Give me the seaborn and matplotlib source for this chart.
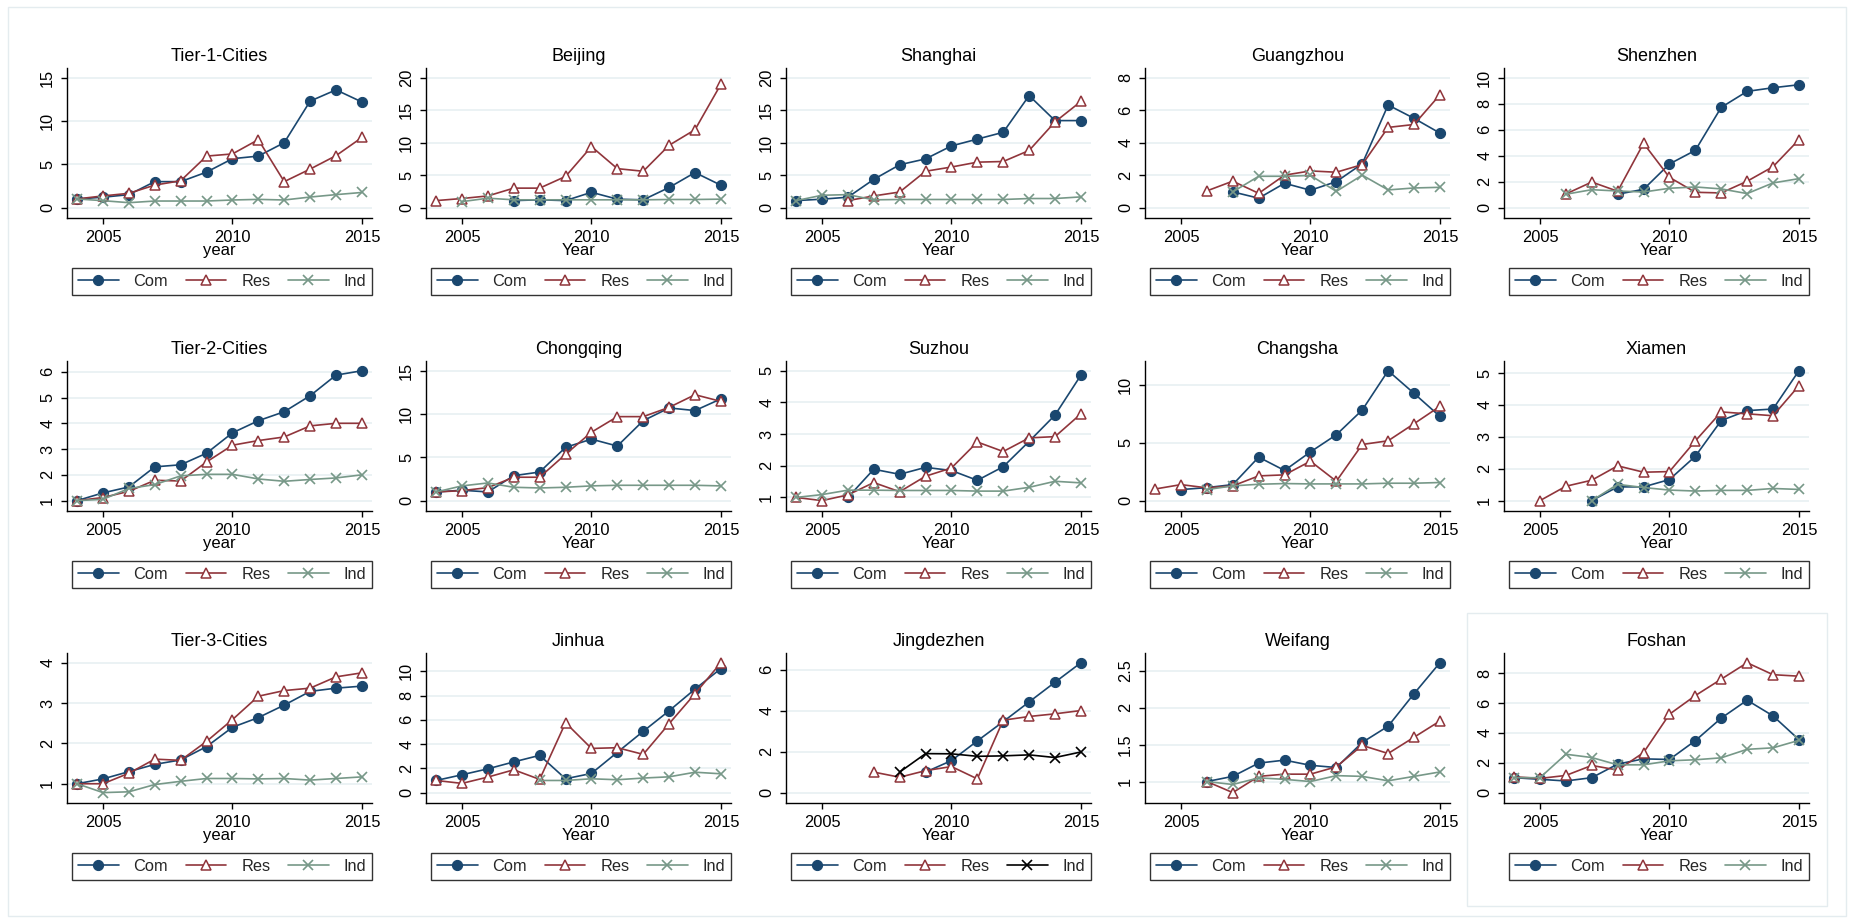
import numpy as np
import pandas as pd
import matplotlib
matplotlib.use("Agg")
import matplotlib.pyplot as plt
import seaborn as sns
from matplotlib.patches import Rectangle

N = np.nan
years = list(range(2004, 2016))

# ---- series (index relative to 2004 / first year) ----
tier1_com = [1.0, 1.2, 1.5, 3.0, 3.0, 4.1, 5.65, 5.95, 7.5, 12.3, 13.6, 12.2]
tier1_res = [1.0, 1.35, 1.65, 2.6, 3.1, 5.95, 6.2, 7.85, 3.0, 4.45, 6.0, 8.1]
tier1_ind = [1.0, 0.8, 0.57, 0.76, 0.76, 0.76, 0.88, 0.95, 0.88, 1.22, 1.5, 1.75]

beijing_com = [N, N, N, 1.08, 1.2, 1.08, 2.36, 1.3, 1.2, 3.1, 5.4, 3.45]
beijing_res = [1.08, 1.4, 1.8, 3.0, 3.0, 4.8, 9.4, 6.0, 5.6, 9.6, 12.0, 19.0]
beijing_ind = [N, 0.92, 1.45, 1.2, 1.2, 1.2, 1.2, 1.2, 1.2, 1.25, 1.25, 1.3]

shanghai_com = [1.08, 1.3, 1.6, 4.35, 6.6, 7.5, 9.5, 10.55, 11.6, 17.25, 13.4, 13.4]
shanghai_res = [N, N, 1.08, 1.8, 2.4, 5.6, 6.25, 7.0, 7.1, 8.8, 13.2, 16.35]
shanghai_ind = [1.08, 1.9, 2.0, 1.2, 1.25, 1.25, 1.25, 1.25, 1.25, 1.4, 1.4, 1.65]

guangzhou_com = [N, N, N, 0.97, 0.58, 1.5, 1.07, 1.6, 2.7, 6.32, 5.5, 4.59]
guangzhou_res = [N, N, 1.03, 1.63, 0.88, 2.0, 2.26, 2.18, 2.65, 4.94, 5.12, 6.95]
guangzhou_ind = [N, N, N, 0.97, 1.93, 1.93, 1.98, 1.0, 2.0, 1.09, 1.21, 1.25]

shenzhen_com = [N, N, N, N, 1.03, 1.41, 3.36, 4.41, 7.72, 8.95, 9.23, 9.46]
shenzhen_res = [N, N, 1.05, 1.97, 1.26, 4.95, 2.33, 1.18, 1.13, 2.03, 3.15, 5.23]
shenzhen_ind = [N, N, 1.03, 1.38, 1.28, 1.2, 1.49, 1.59, 1.44, 1.08, 1.9, 2.23]

tier2_com = [1.0, 1.3, 1.53, 2.31, 2.39, 2.84, 3.63, 4.1, 4.45, 5.07, 5.87, 6.04]
tier2_res = [1.0, 1.12, 1.36, 1.79, 1.76, 2.5, 3.15, 3.33, 3.47, 3.9, 4.0, 4.0]
tier2_ind = [1.0, 1.05, 1.47, 1.62, 1.96, 2.02, 2.02, 1.84, 1.75, 1.82, 1.88, 2.0]

chongqing_com = [1.0, 1.2, 1.0, 2.88, 3.3, 6.15, 7.1, 6.3, 9.23, 10.7, 10.4, 11.75]
chongqing_res = [1.0, 1.15, 1.5, 2.7, 2.7, 5.35, 7.9, 9.7, 9.7, 10.77, 12.23, 11.46]
chongqing_ind = [1.0, 1.7, 2.04, 1.54, 1.46, 1.54, 1.7, 1.77, 1.77, 1.77, 1.77, 1.7]

suzhou_com = [N, N, 1.0, 1.89, 1.73, 1.95, 1.85, 1.54, 1.97, 2.77, 3.6, 4.86]
suzhou_res = [1.0, 0.9, 1.08, 1.47, 1.18, 1.67, 1.93, 2.75, 2.45, 2.88, 2.92, 3.64]
suzhou_ind = [1.0, 1.09, 1.23, 1.23, 1.22, 1.22, 1.22, 1.2, 1.2, 1.32, 1.51, 1.46]

changsha_com = [N, 0.95, 1.12, 1.38, 3.75, 2.6, 4.2, 5.68, 7.81, 11.2, 9.25, 7.26]
changsha_res = [1.0, 1.38, 1.1, 1.27, 2.13, 2.22, 3.4, 1.67, 4.84, 5.16, 6.63, 8.13]
changsha_ind = [N, N, 0.95, 1.27, 1.41, 1.47, 1.44, 1.44, 1.44, 1.5, 1.5, 1.56]

xiamen_com = [N, N, N, 1.0, 1.43, 1.43, 1.66, 2.39, 3.51, 3.82, 3.87, 5.07]
xiamen_res = [N, 1.0, 1.45, 1.64, 2.09, 1.89, 1.91, 2.87, 3.78, 3.72, 3.66, 4.6]
xiamen_ind = [N, N, N, 1.0, 1.51, 1.41, 1.33, 1.3, 1.32, 1.32, 1.38, 1.35]

tier3_com = [1.0, 1.12, 1.3, 1.48, 1.59, 1.92, 2.4, 2.64, 2.95, 3.29, 3.37, 3.42]
tier3_res = [1.0, 1.0, 1.26, 1.61, 1.58, 2.05, 2.59, 3.17, 3.31, 3.37, 3.65, 3.75]
tier3_ind = [1.0, 0.78, 0.8, 0.98, 1.06, 1.13, 1.13, 1.12, 1.13, 1.09, 1.13, 1.17]

jinhua_com = [1.0, 1.47, 1.96, 2.53, 3.07, 1.14, 1.58, 3.32, 5.05, 6.74, 8.53, 10.22]
jinhua_res = [1.0, 0.76, 1.28, 1.88, 1.09, 5.76, 3.64, 3.7, 3.15, 5.68, 8.15, 10.7]
jinhua_ind = [N, N, N, N, 1.0, 1.0, 1.14, 1.06, 1.2, 1.3, 1.68, 1.55]

jingdezhen_com = [N, N, N, N, N, 1.0, 1.56, 2.52, 3.46, 4.42, 5.38, 6.33]
jingdezhen_res = [N, N, N, 1.0, 0.75, 1.07, 1.27, 0.67, 3.53, 3.71, 3.84, 4.0]
jingdezhen_ind = [N, N, N, N, 1.0, 1.9, 1.89, 1.77, 1.79, 1.84, 1.71, 1.98]

weifang_com = [N, N, 1.0, 1.07, 1.25, 1.29, 1.22, 1.19, 1.53, 1.75, 2.19, 2.61]
weifang_res = [N, N, 1.0, 0.85, 1.07, 1.1, 1.1, 1.2, 1.49, 1.38, 1.6, 1.82]
weifang_ind = [N, N, 1.0, 0.96, 1.05, 1.03, 1.0, 1.08, 1.07, 1.01, 1.07, 1.13]

foshan_com = [1.0, 0.89, 0.78, 1.0, 1.91, 2.26, 2.22, 3.48, 4.99, 6.19, 5.14, 3.55]
foshan_res = [1.06, 0.95, 1.15, 1.82, 1.51, 2.68, 5.25, 6.5, 7.6, 8.7, 7.9, 7.8]
foshan_ind = [1.0, 1.0, 2.57, 2.35, 1.86, 1.86, 2.13, 2.2, 2.33, 2.9, 3.0, 3.5]

titles = ["Tier-1-Cities", "Beijing", "Shanghai", "Guangzhou", "Shenzhen",
          "Tier-2-Cities", "Chongqing", "Suzhou", "Changsha", "Xiamen",
          "Tier-3-Cities", "Jinhua", "Jingdezhen", "Weifang", "Foshan"]
xlabels = ["year", "Year", "Year", "Year", "Year",
           "year", "Year", "Year", "Year", "Year",
           "year", "Year", "Year", "Year", "Year"]
yticks = [[0, 5, 10, 15], [0, 5, 10, 15, 20], [0, 5, 10, 15, 20], [0, 2, 4, 6, 8],
          [0, 2, 4, 6, 8, 10],
          [1, 2, 3, 4, 5, 6], [0, 5, 10, 15], [1, 2, 3, 4, 5], [0, 5, 10], [1, 2, 3, 4, 5],
          [1, 2, 3, 4], [0, 2, 4, 6, 8, 10], [0, 2, 4, 6], [1, 1.5, 2, 2.5], [0, 2, 4, 6, 8]]
xticks = [2005, 2010, 2015]
series = [
    (tier1_com, tier1_res, tier1_ind), (beijing_com, beijing_res, beijing_ind),
    (shanghai_com, shanghai_res, shanghai_ind), (guangzhou_com, guangzhou_res, guangzhou_ind),
    (shenzhen_com, shenzhen_res, shenzhen_ind),
    (tier2_com, tier2_res, tier2_ind), (chongqing_com, chongqing_res, chongqing_ind),
    (suzhou_com, suzhou_res, suzhou_ind), (changsha_com, changsha_res, changsha_ind),
    (xiamen_com, xiamen_res, xiamen_ind),
    (tier3_com, tier3_res, tier3_ind), (jinhua_com, jinhua_res, jinhua_ind),
    (jingdezhen_com, jingdezhen_res, jingdezhen_ind), (weifang_com, weifang_res, weifang_ind),
    (foshan_com, foshan_res, foshan_ind),
]

COM_C = "#1a476f"
RES_C = "#90353b"
IND_C = "#779888"
GRID_C = "#e9f1f3"

sns.set_theme(style="white")
plt.rcParams["font.family"] = ["Liberation Sans", "DejaVu Sans"]

W, H = 1851, 923
fig = plt.figure(figsize=(W / 100, H / 100), dpi=100)
fig.patch.set_facecolor("white")

col_left = [67, 426, 786, 1145, 1504]
row_top = [68, 361, 653]
AX_W, AX_H = 305, 150


def draw_panel(ax, title, xlabel, com, res, ind, ticks, ind_color):
    frame = pd.DataFrame({"year": years, "Com": com, "Res": res, "Ind": ind})
    for y in ticks:
        ax.axhline(y, color=GRID_C, lw=1.3, zorder=0)
    sns.lineplot(data=frame, x="year", y="Com", ax=ax, color=COM_C, lw=1.2,
                 marker="o", markersize=7.3, markeredgecolor=COM_C,
                 markerfacecolor=COM_C, label="Com", legend=False)
    sns.lineplot(data=frame, x="year", y="Res", ax=ax, color=RES_C, lw=1.2,
                 marker="^", markersize=7.3, markeredgecolor=RES_C,
                 markerfacecolor="white", markeredgewidth=1.1, label="Res", legend=False)
    sns.lineplot(data=frame, x="year", y="Ind", ax=ax, color=ind_color, lw=1.2,
                 marker="x", markersize=7.3, markeredgecolor=ind_color,
                 markeredgewidth=1.2, label="Ind", legend=False)

    vals = np.array([v for arr in (com, res, ind) for v in arr], dtype=float)
    lo = min(np.nanmin(vals), ticks[0])
    hi = max(np.nanmax(vals), ticks[-1])
    span = hi - lo
    ax.set_ylim(lo - 0.08 * span, hi + 0.075 * span)
    ax.set_xlim(2003.61, 2015.39)
    ax.set_yticks(ticks)
    ax.set_yticklabels([("%g" % t) for t in ticks], rotation=90, va="center")
    ax.set_xticks(xticks)
    ax.tick_params(axis="both", which="major", direction="out", length=4.5,
                   width=1, color="black", labelsize=11.8, labelcolor="black",
                   left=True, bottom=True)
    ax.tick_params(axis="y", pad=4)
    ax.tick_params(axis="x", pad=4)
    for s in ("top", "right"):
        ax.spines[s].set_visible(False)
    for s in ("left", "bottom"):
        ax.spines[s].set_color("black")
        ax.spines[s].set_linewidth(1.0)
    ax.set_title(title, fontsize=13, pad=5, color="black")
    ax.set_xlabel(xlabel, fontsize=12, labelpad=-1, color="black")
    ax.set_ylabel("")
    ax.set_facecolor("white")

    handles, labels = ax.get_legend_handles_labels()
    leg = ax.legend(handles, labels, loc="upper left",
                    bbox_to_anchor=(0.016, -0.335, 0.984, 0.0), mode="expand",
                    ncol=3, frameon=True, fancybox=False, fontsize=11.8,
                    handlelength=2.5, handletextpad=0.9, borderpad=0.35,
                    borderaxespad=0, numpoints=1)
    leg.get_frame().set_edgecolor("black")
    leg.get_frame().set_linewidth(1.0)


for i, (title, xl, (c, r, d), tk) in enumerate(zip(titles, xlabels, series, yticks)):
    row, col = divmod(i, 5)
    left = col_left[col] / W
    bottom = 1 - (row_top[row] + AX_H) / H
    ax = fig.add_axes([left, bottom, AX_W / W, AX_H / H])
    ind_color = "black" if title == "Jingdezhen" else IND_C
    draw_panel(ax, title, xl, c, r, d, tk, ind_color)


# faint graph-region outlines
def px_rect(x0, y0, x1, y1):
    return Rectangle((x0 / W, 1 - y1 / H), (x1 - x0) / W, (y1 - y0) / H,
                     transform=fig.transFigure, fill=False, edgecolor="#e4ecef",
                     lw=1.0, zorder=-1)


fig.add_artist(px_rect(8, 7, 1846, 916))
fig.add_artist(px_rect(1467, 613, 1827, 906))

fig.savefig("out.png", dpi=100, facecolor="white")
